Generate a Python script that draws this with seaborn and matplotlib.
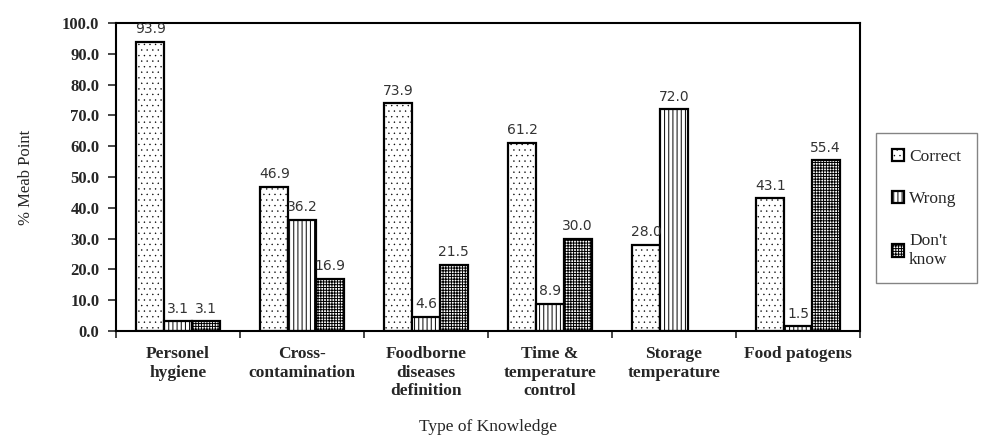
"""
Grouped bar chart: knowledge of food safety (Correct / Wrong / Don't know).
"""

import numpy as np
import pandas as pd
import matplotlib
matplotlib.use("Agg")
import matplotlib.pyplot as plt
import seaborn as sns

categories = ["Personel\nhygiene", "Cross-\ncontamination", "Foodborne\ndiseases\ndefinition",
              "Time &\ntemperature\ncontrol", "Storage\ntemperature", "Food patogens"]
series = ["Correct", "Wrong", "Don't\nknow"]
correct = [93.9, 46.9, 73.9, 61.2, 28.0, 43.1]
wrong = [3.1, 36.2, 4.6, 8.9, 72.0, 1.5]
dont_know = [3.1, 16.9, 21.5, 30.0, np.nan, 55.4]
y_ticks = np.arange(0, 101, 10)

df = pd.DataFrame({
    "category": categories * 3,
    "series": [series[0]] * 6 + [series[1]] * 6 + [series[2]] * 6,
    "value": correct + wrong + dont_know,
})

sns.set_style("white")
plt.rcParams["font.family"] = ["Liberation Serif", "DejaVu Serif"]
plt.rcParams["hatch.linewidth"] = 0.7

fig = plt.figure(figsize=(9.87, 4.36), dpi=100)
ax = fig.add_axes([0.1175, 0.2408, 0.7538, 0.7064])

sns.barplot(data=df, x="category", y="value", hue="series", order=categories,
            hue_order=series, width=0.67, gap=0, ax=ax,
            palette=["white"] * 3, edgecolor="black", linewidth=1.6,
            errorbar=None, legend=True)

hatches = ["...", "||||", "++++++"]
hatch_lw = [0.25, 0.7, 0.7]


def style_patch(p, h, lw):
    p.set_hatch(h)
    p.set_facecolor("white")
    p.set_edgecolor("black")
    if hasattr(p, "set_hatch_linewidth"):
        p.set_hatch_linewidth(lw)
    else:
        p._hatch_linewidth = lw


for cont, h, lw in zip(ax.containers, hatches, hatch_lw):
    for bar in cont:
        style_patch(bar, h, lw)
    ax.bar_label(cont, fmt="%.1f", padding=4, fontsize=10, color="#333333",
                 family="DejaVu Sans")

ax.set_ylim(0, 100)
ax.set_xlim(-0.5, 5.5)
ax.set_yticks(y_ticks)
ax.set_yticklabels([f"{v:.1f}" for v in y_ticks], fontweight="bold", fontsize=12)
ax.set_xticks(range(6))
ax.set_xticklabels(categories, fontweight="bold", fontsize=12.5, linespacing=1.2)
ax.set_xticks(np.arange(-0.5, 6, 1), minor=True)
ax.tick_params(axis="x", which="major", length=0, pad=11)
ax.tick_params(axis="x", which="minor", length=5, width=1.2, direction="out", bottom=True)
ax.tick_params(axis="y", length=6, width=1.2, direction="out", left=True, pad=6)

for s in ax.spines.values():
    s.set_linewidth(1.5)
    s.set_color("black")

ax.set_ylabel("% Meab Point", fontsize=12, labelpad=20)
ax.set_xlabel("Type of Knowledge", fontsize=12.5, labelpad=14)

leg = ax.legend(loc="upper left", bbox_to_anchor=(1.01, 0.67), frameon=True,
                fancybox=False, edgecolor="#666666", fontsize=12.5,
                handlelength=0.7, handleheight=0.7, handletextpad=0.3,
                labelspacing=1.5, borderpad=0.9)
leg.get_frame().set_linewidth(1.0)
for patch, h, lw in zip(leg.get_patches(), hatches, hatch_lw):
    style_patch(patch, h, lw)

fig.savefig("out.png", dpi=100)
